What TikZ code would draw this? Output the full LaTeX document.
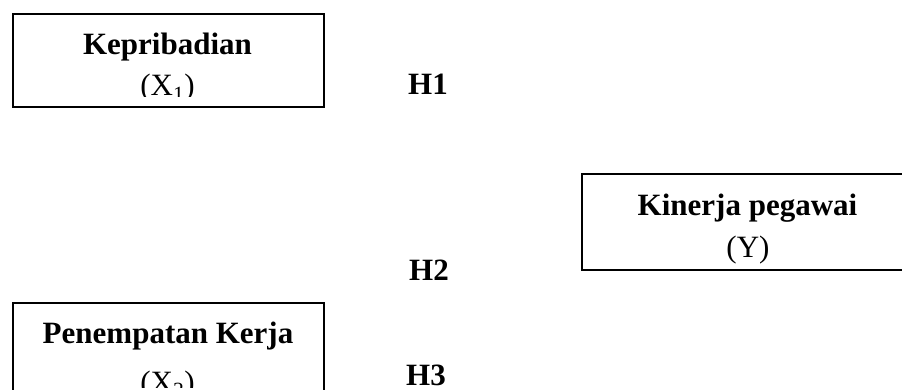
\documentclass[tikz,border=0pt]{standalone}
\usepackage{fontspec}
\setmainfont{Liberation Serif}
\begin{document}
\begin{tikzpicture}[x=1pt,y=1pt,
  boxstyle/.style={draw=black,line width=1.8pt,inner sep=0pt,anchor=north west},
  headtext/.style={font=\fontsize{31}{36}\selectfont\bfseries,inner sep=0pt,anchor=base},
  subtext/.style={font=\fontsize{31}{36}\selectfont,inner sep=0pt,anchor=base},
  hyp/.style={font=\fontsize{31}{36}\selectfont\bfseries,inner sep=0pt,anchor=base}]
\useasboundingbox (0,0) rectangle (902,-390);
\clip (0,0) rectangle (902,-390);
% boxes
\node[boxstyle,minimum width=311pt,minimum height=93pt] (x1box) at (12,-13) {};
\node[boxstyle,minimum width=332pt,minimum height=96pt] (ybox) at (581,-173) {};
\node[boxstyle,minimum width=311pt,minimum height=110pt] (x2box) at (12,-302) {};
% texts
\node[headtext] (x1name) at (167.5,-55) {Kepribadian};
\begin{scope}
\clip (14,-14) rectangle (321,-97);
\node[subtext] (x1sym) at (167.5,-96) {(X\textsubscript{1})};
\end{scope}
\node[headtext] (yname) at (747.5,-215) {Kinerja pegawai};
\node[subtext] (ysym) at (748,-258) {(Y)};
\node[headtext] (x2name) at (168,-343) {Penempatan Kerja};
\begin{scope}
\clip (14,-303) rectangle (321,-387);
\node[subtext] (x2sym) at (167.5,-392) {(X\textsubscript{2})};
\end{scope}
% hypothesis labels
\node[hyp] (h1) at (428,-95) {H1};
\node[hyp] (h2) at (429,-280) {H2};
\node[hyp] (h3) at (426,-385) {H3};
\end{tikzpicture}
\end{document}
